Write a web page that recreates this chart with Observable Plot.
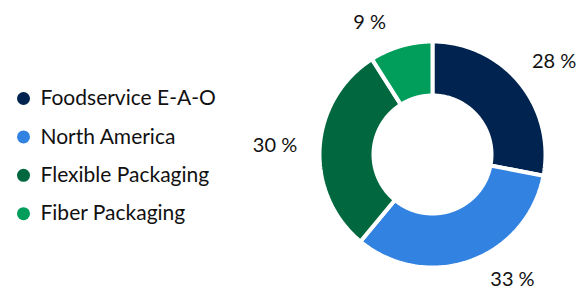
<!DOCTYPE html>
<html>
<head>
<meta charset="utf-8">
<script src="https://cdn.jsdelivr.net/npm/d3@7"></script>
<script src="https://cdn.jsdelivr.net/npm/@observablehq/plot@0.6"></script>
<style>
  html, body { margin: 0; padding: 0; background: #fff; }
  #chart svg { display: block; }
</style>
</head>
<body>
<div id="chart"></div>
<script>
// ---- data ----
const categories = ["Foodservice E-A-O", "North America", "Flexible Packaging", "Fiber Packaging"];
const shares = [28, 33, 30, 9];
const shareLabels = ["28 %", "33 %", "30 %", "9 %"];

// ---- style / layout ----
const palette = ["#00244f", "#3282e2", "#00673f", "#009d5b"];
const W = 587, H = 292;
const cx = 432, cy = 154, rOuter = 113, rInner = 59;
const font = "Lato, 'Open Sans', sans-serif";
const labelTop = 22, labelBottom = 279;

const pie = d3.pie().sort(null).value(d => d)(shares);

// polygon points for each slice (angles clockwise from 12 o'clock)
const pts = [];
const N = 120;
pie.forEach((s, i) => {
  const cat = categories[i];
  const ring = [];
  for (let k = 0; k <= N; k++) {
    const a = s.startAngle + (s.endAngle - s.startAngle) * k / N;
    ring.push({cat, x: cx + rOuter * Math.sin(a), y: cy - rOuter * Math.cos(a)});
  }
  for (let k = N; k >= 0; k--) {
    const a = s.startAngle + (s.endAngle - s.startAngle) * k / N;
    ring.push({cat, x: cx + rInner * Math.sin(a), y: cy - rInner * Math.cos(a)});
  }
  ring.push({...ring[0]});
  pts.push(...ring);
});

// outside-end labels; rotated toward the horizontal if they would leave the frame
const labelData = pie.map((s, i) => {
  let a = (s.startAngle + s.endAngle) / 2;
  const rr = rOuter + 22;
  const hw = shareLabels[i].length * 5.7, hh = 10;
  const pos = a => ({
    x: cx + (rr + hw) * Math.sin(a),
    y: cy - (rr + hh) * Math.cos(a)
  });
  let p = pos(a);
  if (p.y > labelBottom || p.y < labelTop) {
    const target = p.y > labelBottom ? labelBottom : labelTop;
    const c = (cy - target) / (rr + hh); // cos a
    const base = Math.acos(Math.max(-1, Math.min(1, c)));
    a = Math.sin(a) >= 0 ? base : 2 * Math.PI - base;
    p = pos(a);
  }
  return {label: shareLabels[i], x: p.x, y: p.y};
});

const legendData = categories.map((c, i) => ({cat: c, i}));

const chart = Plot.plot({
  width: W,
  height: H,
  margin: 0,
  x: {domain: [0, W], range: [0, W], axis: null},
  y: {domain: [0, H], range: [0, H], axis: null},
  color: {domain: categories, range: palette},
  style: {fontFamily: font, background: "#fff"},
  marks: [
    Plot.line(pts, {x: "x", y: "y", z: "cat", fill: "cat", stroke: "#fff", strokeWidth: 4, curve: "linear", strokeLinejoin: "miter"}),
    Plot.text(labelData, {x: "x", y: "y", text: "label", fontSize: 20, fill: "#111", textAnchor: "middle", lineAnchor: "middle"}),
    Plot.dot(legendData, {x: 23, y: d => 98 + d.i * 38.4, r: 6.5, fill: "cat", stroke: null}),
    Plot.text(legendData, {x: 40, y: d => 98 + d.i * 38.4, text: "cat", fontSize: 21, fill: "#111", textAnchor: "start", lineAnchor: "middle"})
  ]
});
document.getElementById("chart").appendChild(chart);
</script>
</body>
</html>
